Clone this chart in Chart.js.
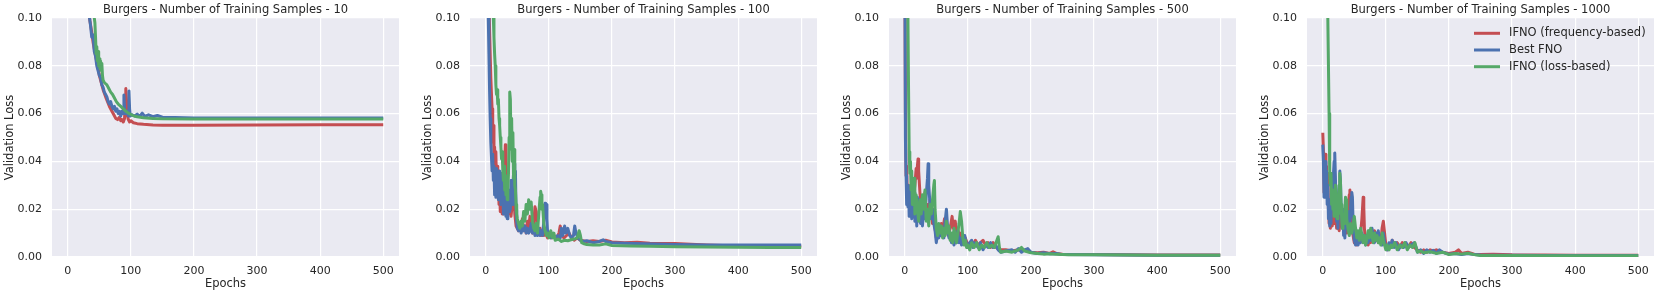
<!DOCTYPE html>
<html>
<head>
<meta charset="utf-8">
<script src="https://cdn.jsdelivr.net/npm/chart.js@4/dist/chart.umd.min.js"></script>
<style>
  html, body { margin: 0; padding: 0; background: #fff; }
  #wrap { position: relative; width: 1661px; height: 296px; }
  .panel { position: absolute; top: 0; width: 405px; height: 296px; }
</style>
</head>
<body>
<div id="wrap"></div>
<script>
// ---- data (epoch, validation loss) ----
const sampleCounts = [10, 100, 500, 1000];
const seriesNames = ['IFNO (frequency-based)', 'Best FNO', 'IFNO (loss-based)'];
const seriesColors = ['#C44E52', '#4C72B0', '#55A868'];
const xTicks = [0, 100, 200, 300, 400, 500];
const yTicks = [0, 0.02, 0.04, 0.06, 0.08, 0.10];

const red10 = [[25,0.128],[30,0.112],[35,0.099],[38,0.094],[40,0.090],[42,0.087],[45,0.083],[48,0.079],[50,0.076],[53,0.073],[56,0.070],[60,0.067],[63,0.065],[66,0.063],[70,0.061],[73,0.0595],[76,0.058],[79,0.0575],[82,0.0585],[84,0.057],[86,0.0575],[88,0.0565],[90,0.058],[91,0.064],[92,0.0705],[93,0.066],[94,0.060],[96,0.0575],[98,0.0565],[100,0.057],[104,0.0562],[110,0.0558],[120,0.0555],[135,0.0552],[150,0.0551],[200,0.0551],[300,0.0552],[400,0.0553],[500,0.0553]];
const blue10 = [[25,0.13],[30,0.113],[34,0.101],[36,0.097],[38,0.092],[40,0.093],[42,0.086],[44,0.084],[46,0.080],[48,0.078],[50,0.076],[52,0.075],[54,0.072],[56,0.071],[58,0.069],[60,0.068],[62,0.067],[64,0.065],[66,0.064],[68,0.065],[70,0.063],[72,0.062],[74,0.063],[76,0.061],[78,0.062],[80,0.060],[82,0.061],[84,0.059],[86,0.061],[88,0.060],[89,0.0678],[90,0.062],[92,0.060],[94,0.061],[96,0.059],[97,0.0695],[98,0.062],[99,0.059],[102,0.0595],[106,0.059],[110,0.0598],[114,0.0588],[118,0.0602],[122,0.0588],[128,0.0595],[135,0.0587],[142,0.0592],[150,0.0585],[170,0.0584],[200,0.0582],[300,0.0582],[400,0.0582],[500,0.0582]];
const green10 = [[30,0.125],[36,0.112],[40,0.104],[43,0.098],[44,0.092],[45,0.085],[46,0.088],[47,0.082],[48,0.086],[49,0.080],[50,0.083],[51,0.079],[52,0.082],[53,0.078],[54,0.081],[55,0.076],[56,0.074],[58,0.073],[60,0.0725],[62,0.072],[65,0.0705],[68,0.069],[71,0.068],[74,0.0665],[77,0.065],[80,0.064],[84,0.063],[88,0.062],[92,0.061],[96,0.0602],[100,0.0596],[105,0.059],[110,0.0587],[120,0.0583],[135,0.058],[150,0.0578],[200,0.0577],[300,0.0577],[400,0.0577],[500,0.0577]];

const red100 = [[2,0.16],[4,0.12],[6,0.095],[8,0.075],[10,0.062],[11,0.048],[12,0.055],[13,0.042],[14,0.046],[15,0.036],[16,0.044],[17,0.030],[18,0.038],[19,0.025],[20,0.032],[21,0.022],[22,0.028],[23,0.019],[24,0.026],[26,0.018],[27,0.024],[28,0.020],[30,0.038],[31,0.047],[32,0.040],[33,0.030],[34,0.020],[35,0.028],[36,0.018],[38,0.024],[40,0.017],[42,0.022],[44,0.030],[46,0.018],[48,0.013],[50,0.012],[52,0.011],[54,0.014],[56,0.012],[58,0.016],[60,0.011],[62,0.013],[64,0.010],[66,0.015],[68,0.012],[70,0.017],[72,0.012],[74,0.010],[76,0.014],[78,0.021],[80,0.019],[82,0.012],[84,0.010],[86,0.012],[88,0.009],[90,0.011],[92,0.009],[95,0.010],[98,0.008],[100,0.009],[104,0.008],[108,0.009],[112,0.008],[116,0.010],[118,0.013],[120,0.009],[124,0.008],[128,0.009],[132,0.010],[136,0.008],[140,0.007],[145,0.008],[150,0.007],[160,0.0065],[170,0.0068],[180,0.0065],[190,0.007],[200,0.0063],[220,0.006],[240,0.0062],[260,0.0058],[300,0.0056],[350,0.005],[400,0.0046],[450,0.0045],[500,0.0045]];
const blue100 = [[2,0.15],[3,0.12],[4,0.1],[5,0.085],[6,0.07],[7,0.058],[8,0.048],[9,0.042],[10,0.036],[11,0.043],[12,0.032],[13,0.038],[14,0.026],[15,0.034],[16,0.025],[17,0.037],[18,0.028],[19,0.033],[20,0.024],[21,0.036],[22,0.027],[23,0.031],[24,0.022],[25,0.035],[26,0.026],[27,0.03],[28,0.018],[29,0.024],[30,0.019],[31,0.028],[32,0.017],[33,0.025],[34,0.016],[35,0.024],[36,0.028],[37,0.019],[38,0.026],[39,0.02],[40,0.032],[41,0.024],[42,0.022],[43,0.030],[44,0.035],[45,0.039],[46,0.03],[47,0.036],[48,0.02],[49,0.015],[50,0.012],[52,0.011],[54,0.013],[56,0.010],[58,0.012],[60,0.011],[62,0.013],[64,0.010],[66,0.012],[68,0.010],[70,0.011],[72,0.014],[74,0.010],[76,0.012],[78,0.009],[80,0.010],[82,0.009],[84,0.012],[86,0.009],[88,0.011],[90,0.009],[92,0.015],[94,0.0225],[95,0.02],[96,0.022],[97,0.016],[98,0.01],[100,0.009],[103,0.008],[106,0.009],[110,0.008],[114,0.009],[118,0.008],[120,0.012],[122,0.009],[125,0.013],[127,0.010],[130,0.012],[133,0.009],[136,0.008],[139,0.009],[141,0.013],[143,0.010],[146,0.008],[150,0.007],[155,0.0065],[160,0.0068],[170,0.006],[180,0.0065],[186,0.0072],[190,0.0065],[200,0.006],[220,0.0058],[250,0.0055],[300,0.0052],[350,0.005],[400,0.005],[450,0.005],[500,0.005]];
const green100 = [[10,0.13],[12,0.1],[13,0.092],[14,0.085],[15,0.08],[16,0.072],[17,0.068],[18,0.07],[19,0.064],[20,0.066],[21,0.058],[22,0.055],[23,0.05],[24,0.046],[25,0.041],[26,0.044],[27,0.036],[28,0.032],[29,0.038],[30,0.028],[31,0.034],[32,0.026],[33,0.03],[34,0.024],[35,0.028],[36,0.035],[37,0.05],[38,0.069],[39,0.066],[40,0.045],[41,0.058],[42,0.04],[43,0.052],[44,0.033],[45,0.045],[46,0.03],[47,0.028],[48,0.022],[49,0.018],[50,0.016],[52,0.014],[54,0.012],[56,0.015],[58,0.013],[60,0.019],[62,0.015],[64,0.022],[66,0.018],[68,0.024],[70,0.02],[72,0.023],[74,0.015],[76,0.012],[78,0.011],[80,0.014],[82,0.01],[84,0.018],[86,0.025],[87,0.0275],[88,0.026],[89,0.02],[90,0.022],[92,0.014],[94,0.011],[96,0.009],[98,0.01],[100,0.008],[103,0.011],[106,0.008],[108,0.01],[110,0.007],[115,0.0075],[120,0.0065],[125,0.007],[130,0.0068],[135,0.0072],[140,0.0075],[145,0.008],[148,0.011],[150,0.009],[152,0.006],[156,0.0055],[160,0.0052],[170,0.005],[180,0.005],[190,0.0055],[200,0.0048],[230,0.0046],[260,0.0045],[300,0.0043],[350,0.0042],[400,0.0041],[450,0.004],[500,0.004]];

const red500 = [[0,0.13],[1,0.06],[2,0.034],[3,0.038],[4,0.025],[6,0.03],[8,0.02],[10,0.024],[12,0.018],[14,0.026],[16,0.03],[18,0.037],[19,0.033],[20,0.038],[21,0.041],[22,0.036],[24,0.027],[26,0.02],[28,0.025],[30,0.019],[32,0.027],[34,0.016],[36,0.022],[38,0.016],[40,0.024],[42,0.02],[44,0.014],[46,0.02],[48,0.012],[50,0.008],[52,0.012],[55,0.009],[58,0.014],[60,0.011],[63,0.016],[66,0.012],[69,0.009],[72,0.012],[75,0.017],[77,0.012],[80,0.015],[82,0.01],[84,0.012],[86,0.008],[88,0.01],[92,0.007],[96,0.008],[100,0.005],[104,0.006],[108,0.005],[112,0.007],[116,0.005],[120,0.006],[124,0.007],[128,0.005],[132,0.006],[136,0.004],[140,0.006],[145,0.004],[150,0.003],[160,0.003],[170,0.0025],[180,0.003],[190,0.0028],[200,0.002],[210,0.0018],[220,0.002],[230,0.0015],[235,0.0022],[240,0.0015],[250,0.0012],[300,0.001],[350,0.0009],[400,0.0008],[450,0.0008],[500,0.0008]];
const blue500 = [[0,0.15],[1,0.05],[2,0.034],[3,0.022],[4,0.03],[5,0.021],[6,0.028],[7,0.017],[8,0.025],[9,0.018],[10,0.03],[11,0.016],[12,0.024],[14,0.017],[15,0.027],[16,0.015],[18,0.022],[19,0.013],[20,0.025],[22,0.018],[24,0.024],[25,0.014],[27,0.022],[28,0.013],[30,0.02],[32,0.016],[34,0.026],[36,0.033],[37,0.039],[38,0.03],[40,0.022],[42,0.016],[44,0.02],[46,0.014],[48,0.011],[50,0.006],[52,0.01],[54,0.008],[56,0.013],[58,0.009],[60,0.011],[62,0.008],[64,0.015],[66,0.02],[68,0.012],[70,0.008],[72,0.01],[74,0.006],[76,0.008],[78,0.005],[80,0.009],[82,0.006],[84,0.011],[86,0.006],[88,0.008],[90,0.005],[92,0.007],[95,0.009],[98,0.005],[100,0.004],[103,0.006],[106,0.007],[108,0.004],[110,0.006],[113,0.005],[116,0.004],[120,0.006],[124,0.003],[128,0.005],[132,0.004],[136,0.006],[140,0.004],[144,0.005],[148,0.003],[152,0.002],[160,0.0025],[170,0.003],[175,0.002],[180,0.0035],[185,0.002],[190,0.003],[195,0.0035],[200,0.002],[210,0.0015],[220,0.0018],[230,0.0014],[240,0.0015],[250,0.001],[300,0.0009],[350,0.0008],[400,0.0007],[450,0.0007],[500,0.0007]];
const green500 = [[3,0.15],[5,0.1],[6,0.07],[7,0.044],[8,0.035],[9,0.04],[10,0.028],[11,0.036],[12,0.022],[13,0.03],[14,0.024],[15,0.033],[16,0.018],[18,0.026],[20,0.02],[22,0.015],[24,0.024],[26,0.018],[28,0.026],[30,0.02],[32,0.028],[34,0.015],[36,0.02],[38,0.013],[40,0.022],[42,0.018],[44,0.024],[46,0.03],[47,0.032],[48,0.02],[50,0.012],[52,0.009],[54,0.014],[56,0.01],[58,0.013],[60,0.008],[62,0.012],[64,0.009],[66,0.015],[68,0.01],[70,0.013],[72,0.007],[74,0.01],[76,0.006],[78,0.012],[80,0.009],[82,0.006],[84,0.01],[86,0.014],[88,0.019],[90,0.015],[92,0.008],[94,0.005],[96,0.007],[98,0.004],[100,0.005],[103,0.003],[106,0.006],[110,0.004],[114,0.006],[118,0.003],[122,0.005],[126,0.004],[130,0.006],[134,0.004],[138,0.005],[142,0.004],[146,0.007],[148,0.0085],[150,0.004],[152,0.002],[160,0.0025],[170,0.002],[180,0.003],[185,0.004],[190,0.0025],[200,0.0018],[210,0.0015],[220,0.0012],[230,0.0014],[240,0.0011],[250,0.001],[260,0.0009],[300,0.0009],[350,0.0008],[400,0.0007],[450,0.0007],[500,0.0007]];

const red1000 = [[0,0.052],[1,0.045],[2,0.027],[3,0.033],[4,0.043],[5,0.03],[6,0.038],[7,0.025],[8,0.035],[9,0.02],[10,0.014],[11,0.022],[12,0.012],[14,0.02],[15,0.013],[17,0.021],[18,0.014],[20,0.018],[22,0.012],[24,0.016],[26,0.011],[28,0.018],[30,0.013],[32,0.02],[34,0.012],[36,0.017],[38,0.01],[40,0.02],[42,0.026],[43,0.028],[44,0.022],[46,0.012],[48,0.009],[50,0.006],[52,0.009],[54,0.005],[56,0.008],[58,0.006],[60,0.01],[62,0.016],[64,0.025],[65,0.021],[66,0.012],[68,0.006],[70,0.009],[72,0.005],[74,0.008],[76,0.006],[78,0.01],[80,0.007],[82,0.011],[84,0.008],[86,0.01],[88,0.006],[90,0.009],[92,0.006],[94,0.012],[96,0.015],[98,0.01],[100,0.005],[102,0.003],[105,0.005],[108,0.004],[110,0.007],[114,0.005],[118,0.006],[122,0.004],[126,0.006],[130,0.005],[135,0.004],[140,0.006],[145,0.004],[150,0.003],[155,0.002],[160,0.003],[165,0.002],[170,0.003],[175,0.0025],[180,0.003],[190,0.002],[200,0.0015],[210,0.002],[215,0.003],[220,0.0015],[230,0.002],[240,0.0012],[250,0.001],[270,0.0012],[300,0.0009],[350,0.0008],[400,0.0007],[450,0.0007],[500,0.0007]];
const blue1000 = [[0,0.047],[1,0.04],[2,0.025],[3,0.038],[4,0.04],[5,0.028],[6,0.036],[7,0.022],[8,0.03],[9,0.016],[10,0.024],[11,0.013],[12,0.02],[13,0.014],[14,0.025],[15,0.03],[16,0.022],[17,0.035],[18,0.04],[19,0.0435],[20,0.034],[21,0.02],[22,0.015],[23,0.02],[24,0.012],[25,0.025],[26,0.03],[27,0.036],[28,0.032],[29,0.022],[30,0.018],[31,0.012],[32,0.02],[33,0.009],[34,0.014],[35,0.008],[36,0.016],[38,0.012],[40,0.019],[42,0.014],[44,0.02],[45,0.025],[46,0.027],[47,0.025],[48,0.015],[50,0.007],[52,0.005],[54,0.008],[56,0.005],[58,0.009],[60,0.006],[62,0.01],[64,0.007],[66,0.009],[68,0.005],[70,0.008],[72,0.006],[74,0.011],[76,0.007],[78,0.012],[80,0.009],[82,0.006],[84,0.01],[86,0.007],[88,0.011],[90,0.006],[92,0.008],[94,0.005],[96,0.01],[98,0.006],[100,0.004],[102,0.003],[105,0.006],[108,0.004],[110,0.007],[113,0.004],[116,0.006],[120,0.003],[124,0.005],[128,0.004],[132,0.006],[136,0.004],[140,0.005],[145,0.006],[148,0.004],[150,0.002],[155,0.003],[160,0.0015],[165,0.003],[170,0.002],[175,0.0028],[180,0.0015],[185,0.003],[190,0.002],[200,0.0012],[210,0.0015],[220,0.001],[230,0.0015],[240,0.001],[250,0.0008],[300,0.0007],[350,0.0006],[400,0.0006],[450,0.0006],[500,0.0006]];
const green1000 = [[6,0.13],[8,0.1],[10,0.06],[11,0.035],[12,0.03],[13,0.035],[14,0.022],[15,0.028],[16,0.02],[17,0.025],[18,0.017],[19,0.022],[20,0.03],[21,0.026],[22,0.02],[23,0.016],[24,0.022],[25,0.018],[26,0.03],[27,0.035],[28,0.032],[29,0.022],[30,0.016],[31,0.012],[32,0.018],[34,0.014],[35,0.02],[36,0.025],[37,0.024],[38,0.016],[40,0.012],[42,0.009],[44,0.014],[46,0.01],[48,0.013],[50,0.017],[52,0.012],[54,0.008],[56,0.011],[58,0.007],[60,0.012],[62,0.009],[64,0.006],[66,0.009],[68,0.005],[70,0.008],[72,0.011],[74,0.008],[76,0.012],[78,0.009],[80,0.006],[82,0.01],[84,0.007],[86,0.009],[88,0.006],[90,0.008],[92,0.005],[94,0.01],[96,0.007],[98,0.005],[100,0.003],[102,0.005],[105,0.003],[108,0.005],[110,0.004],[114,0.006],[118,0.003],[122,0.005],[126,0.004],[130,0.006],[134,0.003],[138,0.005],[142,0.004],[146,0.006],[148,0.004],[150,0.002],[155,0.0025],[160,0.0018],[170,0.0022],[180,0.0015],[190,0.002],[200,0.001],[210,0.0015],[220,0.0012],[230,0.0016],[240,0.001],[250,0.0006],[300,0.0006],[350,0.0005],[400,0.0005],[450,0.0005],[500,0.0005]];

const panelSeries = [
  [red10, blue10, green10],
  [red100, blue100, green100],
  [red500, blue500, green500],
  [red1000, blue1000, green1000],
];

// ---- layout ----
const plotLefts = [52, 470, 889, 1307];
const yAxisWidth = 52;
const plotWidth = 347;
const plotTop = 18;
const xAxisHeight = 39;
const canvasW = 405, canvasH = 296;
const textColor = '#262626';
const fontFamily = '"DejaVu Sans"';

// pick font sizes so text widths match the reference
const measureCtx = document.createElement('canvas').getContext('2d');
function fitSize(text, targetWidth) {
  measureCtx.font = '100px ' + fontFamily;
  return Math.round(100 * targetWidth / measureCtx.measureText(text).width * 10) / 10;
}
const labelSize = fitSize('Burgers - Number of Training Samples - 10', 246);
const legendSize = fitSize('IFNO (frequency-based)', 137);
const tickSize = Math.min(11.5, fitSize('500', 21));
const labelFont = labelSize + 'px ' + fontFamily;
const legendFont = legendSize + 'px ' + fontFamily;

const plotBg = {
  id: 'plotBg',
  beforeDraw(chart) {
    const { ctx, chartArea: a } = chart;
    ctx.save();
    ctx.fillStyle = '#EAEAF2';
    ctx.fillRect(a.left, a.top, a.right - a.left, a.bottom - a.top);
    ctx.restore();
  }
};

// title + axis labels, centred on the axes box
const panelText = {
  id: 'panelText',
  afterDraw(chart, args, opts) {
    const { ctx, chartArea: a } = chart;
    const cx = (a.left + a.right) / 2;
    ctx.save();
    ctx.fillStyle = textColor;
    ctx.font = labelFont;
    ctx.textAlign = 'center';
    ctx.textBaseline = 'middle';
    ctx.fillText(opts.title, cx, 10);
    ctx.fillText('Epochs', cx, 284.5);
    ctx.translate(a.left - 41.5, (a.top + a.bottom) / 2);
    ctx.rotate(-Math.PI / 2);
    ctx.fillText('Validation Loss', 0, 0);
    ctx.restore();
  }
};

// legend drawn inside the last panel, upper right
const innerLegend = {
  id: 'innerLegend',
  afterDatasetsDraw(chart, args, opts) {
    if (!opts.show) return;
    const { ctx, chartArea: a } = chart;
    ctx.save();
    ctx.font = legendFont;
    ctx.textBaseline = 'middle';
    ctx.textAlign = 'left';
    chart.data.datasets
      .slice()
      .sort((d1, d2) => d2.order - d1.order)
      .forEach((ds, k) => {
        const y = a.top + 15.3 + k * 16.7;
        ctx.strokeStyle = ds.borderColor;
        ctx.lineWidth = 3;
        ctx.beginPath();
        ctx.moveTo(a.right - 180, y);
        ctx.lineTo(a.right - 154, y);
        ctx.stroke();
        ctx.fillStyle = textColor;
        ctx.fillText(ds.label, a.right - 145, y);
      });
    ctx.restore();
  }
};

const wrap = document.getElementById('wrap');

sampleCounts.forEach((n, i) => {
  const div = document.createElement('div');
  div.className = 'panel';
  div.style.left = (plotLefts[i] - yAxisWidth) + 'px';
  const canvas = document.createElement('canvas');
  canvas.width = canvasW;
  canvas.height = canvasH;
  canvas.style.width = canvasW + 'px';
  canvas.style.height = canvasH + 'px';
  div.appendChild(canvas);
  wrap.appendChild(div);

  const datasets = panelSeries[i].map((pts, k) => ({
    label: seriesNames[k],
    data: pts.map(([x, y]) => ({ x, y })),
    borderColor: seriesColors[k],
    backgroundColor: seriesColors[k],
    borderWidth: 3,
    pointRadius: 0,
    tension: 0,
    borderJoinStyle: 'round',
    order: 3 - k,
    clip: 0,
  }));

  new Chart(canvas, {
    type: 'line',
    data: { datasets },
    options: {
      responsive: false,
      animation: false,
      devicePixelRatio: 1,
      layout: { padding: { left: 0, top: plotTop, bottom: 0, right: canvasW - yAxisWidth - plotWidth } },
      plugins: {
        legend: { display: false },
        tooltip: { enabled: false },
        title: { display: false },
        panelText: { title: 'Burgers - Number of Training Samples - ' + n },
        innerLegend: { show: i === sampleCounts.length - 1 },
      },
      scales: {
        x: {
          type: 'linear',
          min: -25,
          max: 525,
          afterBuildTicks: s => { s.ticks = xTicks.map(v => ({ value: v })); },
          afterFit: s => { s.height = xAxisHeight; },
          grid: { color: '#ffffff', lineWidth: 1.2, drawTicks: false },
          border: { display: false },
          ticks: { color: textColor, font: { family: fontFamily, size: tickSize }, padding: 8, maxRotation: 0 },
        },
        y: {
          type: 'linear',
          min: 0,
          max: 0.1,
          afterBuildTicks: s => { s.ticks = yTicks.map(v => ({ value: v })); },
          afterFit: s => { s.width = yAxisWidth; },
          grid: { color: '#ffffff', lineWidth: 1.2, drawTicks: false },
          border: { display: false },
          ticks: { color: textColor, font: { family: fontFamily, size: tickSize }, padding: 10, callback: v => v.toFixed(2) },
        },
      },
    },
    plugins: [plotBg, panelText, innerLegend],
  });
});
</script>
</body>
</html>
